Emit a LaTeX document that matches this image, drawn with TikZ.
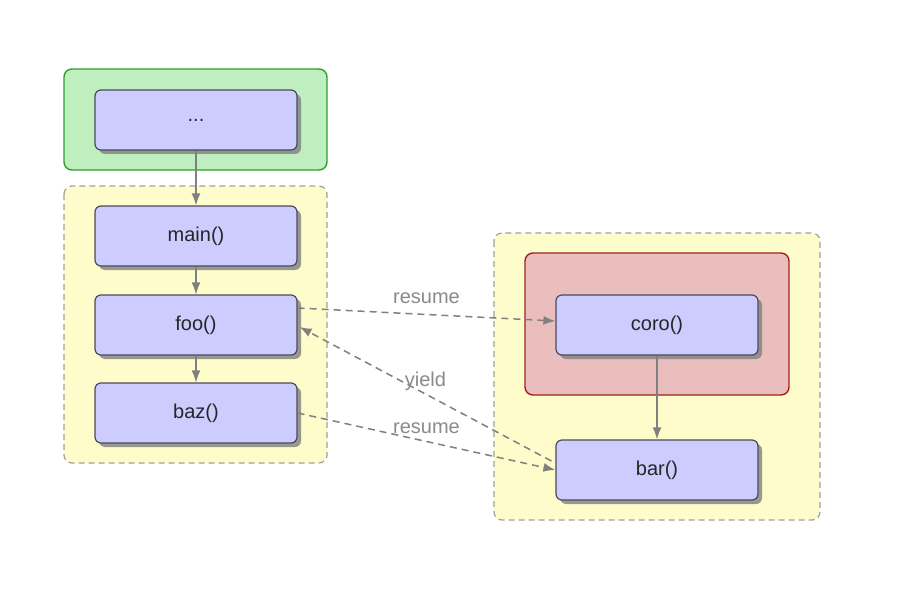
\documentclass[tikz,border=0pt]{standalone}
\usepackage{fontspec}
\setmainfont{Liberation Sans}
\usetikzlibrary{arrows.meta,shadows}
\definecolor{boxfill}{HTML}{CCCCFF}
\definecolor{boxline}{HTML}{4A4A5A}
\definecolor{grnfill}{HTML}{BFEFBF}
\definecolor{grnline}{HTML}{2E9E2E}
\definecolor{ylwfill}{HTML}{FFFCCC}
\definecolor{ylwline}{HTML}{A0A0A0}
\definecolor{redfill}{HTML}{EBBEBE}
\definecolor{redline}{HTML}{A02020}
\definecolor{arr}{HTML}{808080}
\definecolor{lbl}{HTML}{8A8A8A}
\tikzset{
  fbox/.style={draw=boxline, line width=1.2pt, fill=boxfill, rounded corners=6pt,
    minimum width=202pt, minimum height=60pt, inner sep=0pt,
    font=\fontsize{20}{23}\selectfont, text=black!85,
    drop shadow={shadow xshift=4pt, shadow yshift=-4pt, fill=black!50, opacity=0.8}},
  grp/.style={rounded corners=8pt, inner sep=0pt},
  solidarr/.style={draw=arr, line width=1.5pt, -{Latex[length=12pt,width=9pt]}},
  dasharr/.style={draw=arr, line width=1.5pt, dashed, dash pattern=on 7pt off 5pt, -{Latex[length=12pt,width=9pt]}},
  lab/.style={text=lbl, font=\fontsize{20}{23}\selectfont}
}
\begin{document}
\begin{tikzpicture}[x=1pt,y=-1pt]
\useasboundingbox (0,0) rectangle (900,591);
\fill[white] (0,0) rectangle (900,591);
% groups
\draw[grp, fill=grnfill, draw=grnline, line width=1.4pt] (64,69) rectangle (327,170);
\draw[grp, fill=ylwfill, draw=ylwline, line width=1.2pt, dashed, dash pattern=on 6pt off 4pt] (64,186) rectangle (327,463);
\draw[grp, fill=ylwfill, draw=ylwline, line width=1.2pt, dashed, dash pattern=on 6pt off 4pt] (494,233) rectangle (820,520);
\draw[grp, fill=redfill, draw=redline, line width=1.4pt] (525,253) rectangle (789,395);
% nodes
\node[fbox] (dots) at (196,120) {...};
\node[fbox] (main) at (196,236) {main()};
\node[fbox] (foo)  at (196,325) {foo()};
\node[fbox] (baz)  at (196,413) {baz()};
\node[fbox] (coro) at (657,325) {coro()};
\node[fbox] (bar)  at (657,470) {bar()};
% solid arrows
\draw[solidarr] (dots.south) -- (main.north);
\draw[solidarr] (main.south) -- (foo.north);
\draw[solidarr] (foo.south) -- (baz.north);
\draw[solidarr] (coro.south) -- (bar.north);
% dashed arrows
\draw[dasharr] ([yshift=17pt]foo.east) -- node[lab, midway, yshift=16pt] {resume} ([yshift=4pt]coro.west);
\coordinate (ystart) at ([xshift=-4pt,yshift=9pt]bar.west);
\draw[dasharr] (ystart) -- node[lab, midway, yshift=13pt] {yield} ([xshift=2pt,yshift=-2pt]foo.east);
\draw[dasharr] (baz.east) -- node[lab, midway, yshift=13pt] {resume} (bar.west);
\end{tikzpicture}
\end{document}
